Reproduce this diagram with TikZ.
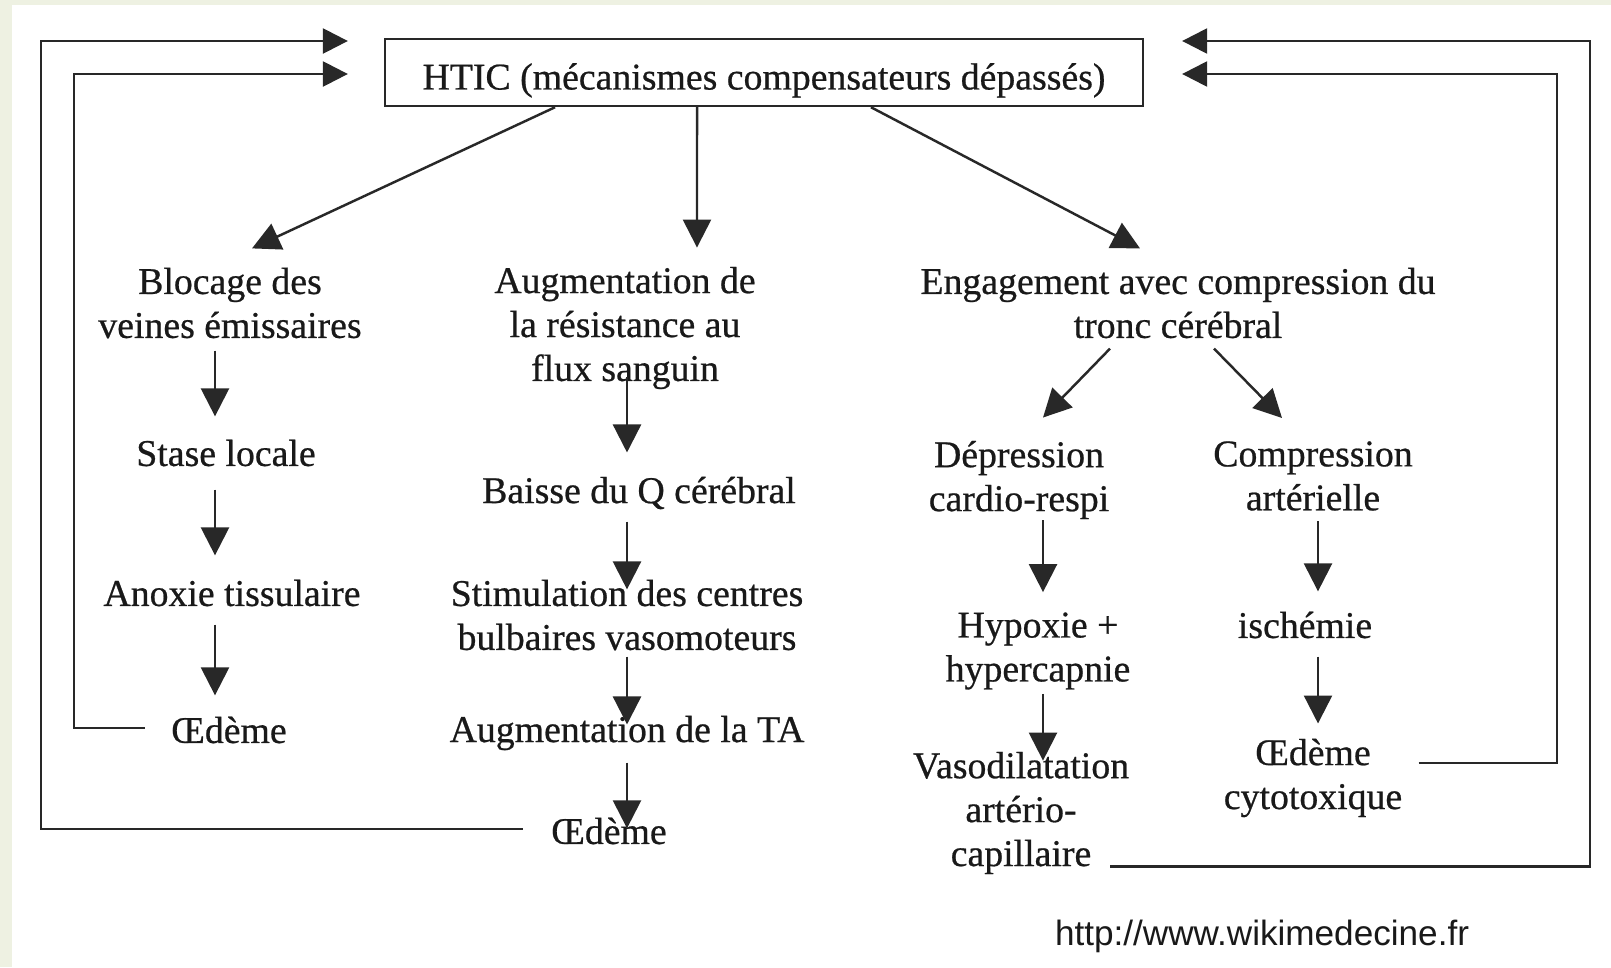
\documentclass[tikz,border=0pt]{standalone}
\usepackage{fontspec}
\setmainfont{Liberation Serif}[UprightFeatures={FakeBold=0.6}]
\newfontfamily\urlfont{Liberation Sans}
\usetikzlibrary{arrows.meta}
\definecolor{encre}{RGB}{25,25,25}
\definecolor{trait}{RGB}{40,40,40}
\definecolor{marge}{RGB}{238,241,226}

\begin{document}
\begin{tikzpicture}[x=0.02cm, y=-0.02cm,
    txt/.style={align=center, inner sep=0pt, text=encre, font=\fontsize{21.5}{25}\selectfont},
    cadre/.style={draw=trait, line width=1.4pt, minimum width=15.16cm, minimum height=1.34cm, inner sep=0pt, text=encre, font=\fontsize{21.5}{25}\selectfont},
    arr/.style={-{Triangle[length=0.56cm, width=0.56cm]}, line width=1.4pt, trait},
    retour/.style={-{Triangle[length=0.5cm, width=0.5cm]}, line width=1.4pt, trait}
]
% fond
\fill[marge] (0,0) rectangle (1611,967);
\fill[white] (12,5) rectangle (1611,967);
\useasboundingbox (0,0) rectangle (1611,967);

\node[cadre, text height=0.68cm, text depth=0pt] (htic) at (764,72.5) {HTIC (mécanismes compensateurs dépassés)};

% colonne gauche
\node[txt] (blocage) at (230,303) {Blocage des\\veines émissaires};
\node[txt] (stase) at (226,453) {Stase locale};
\node[txt] (anoxie) at (232,593) {Anoxie tissulaire};
\node[txt] (oedA) at (229,730) {Œdème};

% colonne du milieu
\node[txt] (resist) at (625,328) {Augmentation de\\la résistance au\\flux sanguin};
\node[txt] (baisse) at (639,493) {Baisse du Q cérébral};
\node[txt] (stimul) at (627,615) {Stimulation des centres\\bulbaires vasomoteurs};
\node[txt] (augTA) at (627,733) {Augmentation de la TA};
\node[txt] (oedB) at (609,831) {Œdème};

% colonne droite
\node[txt] (engag) at (1178,303) {Engagement avec compression du\\tronc cérébral};
\node[txt] (depress) at (1019,480) {Dépression\\cardio-respi};
\node[txt] (compress) at (1313,476) {Compression\\artérielle};
\node[txt] (hypox) at (1038,651) {Hypoxie +\\hypercapnie};
\node[txt] (ischem) at (1305,625) {ischémie};
\node[txt] (vasodil) at (1021,813) {Vasodilatation\\artério-\\capillaire};
\node[txt] (oedC) at (1313,778) {Œdème\\cytotoxique};

\node[inner sep=0pt, text=encre, font=\urlfont\fontsize{20}{24}\selectfont] (source) at (1262,936) {http://www.wikimedecine.fr};

\coordinate (colA) at (215,0);
\coordinate (colB) at (627,0);
\coordinate (colC) at (1043,0);
\coordinate (colD) at (1318,0);
\coordinate (lo) at (41,41);
\coordinate (li) at (74,74);
\coordinate (ro) at (1590,41);
\coordinate (ri) at (1557,74);

% depuis HTIC
\draw[arr] ([xshift=-4.18cm]htic.south) -- ([xshift=0.44cm,yshift=0.38cm]blocage.north);
\draw[arr] ([xshift=-1.34cm]htic.south) -- ([xshift=1.44cm,yshift=0.38cm]resist.north);
\draw[arr] ([xshift=2.14cm]htic.south) -- ([xshift=-0.76cm,yshift=0.38cm]engag.north);

\draw[arr, shorten <=0.24cm, shorten >=0.46cm] (blocage.south -| colA) -- (stase.north -| colA);
\draw[arr, shorten <=0.46cm, shorten >=0.48cm] (stase.south -| colA) -- (anoxie.north -| colA);
\draw[arr, shorten <=0.36cm, shorten >=0.42cm] (anoxie.south -| colA) -- (oedA.north -| colA);

\draw[arr, shorten <=-0.24cm, shorten >=0.48cm] (resist.south -| colB) -- (baisse.north -| colB);
\draw[arr, shorten <=0.24cm, shorten >=-0.2cm] (baisse.south -| colB) -- (stimul.north -| colB);
\draw[arr, shorten <=0.12cm, shorten >=-0.18cm] (stimul.south -| colB) -- (augTA.north -| colB);
\draw[arr, shorten <=0.24cm, shorten >=-0.22cm] (augTA.south -| colB) -- (oedB.north -| colB);

\draw[arr] ([xshift=-1.36cm,yshift=-0.2cm]engag.south) -- ([xshift=0.48cm,yshift=0.46cm]depress.north);
\draw[arr] ([xshift=0.72cm,yshift=-0.2cm]engag.south) -- ([xshift=-0.62cm,yshift=0.46cm]compress.north);
\draw[arr, shorten <=0.02cm, shorten >=0.4cm] (depress.south -| colC) -- (hypox.north -| colC);
\draw[arr, shorten <=0.08cm, shorten >=-0.18cm] (hypox.south -| colC) -- (vasodil.north -| colC);
\draw[arr, shorten <=0.2cm, shorten >=0.4cm] (compress.south -| colD) -- (ischem.north -| colD);
\draw[arr, shorten <=0.36cm, shorten >=0.3cm] (ischem.south -| colD) -- (oedC.north -| colD);

% boucles de retour
\draw[retour] ([xshift=-0.56cm,yshift=0.04cm]oedB.west) -| (lo) -- ([xshift=-0.72cm]htic.west |- lo);
\draw[retour] ([xshift=-0.52cm,yshift=0.04cm]oedA.west) -| (li) -- ([xshift=-0.72cm]htic.west |- li);
\draw[retour] ([xshift=1.78cm,yshift=0.16cm]vasodil.south) -| (ro) -- ([xshift=0.76cm]htic.east |- ro);
\draw[retour] ([xshift=0.32cm,yshift=0.3cm]oedC.east) -| (ri) -- ([xshift=0.76cm]htic.east |- ri);
\end{tikzpicture}
\end{document}
